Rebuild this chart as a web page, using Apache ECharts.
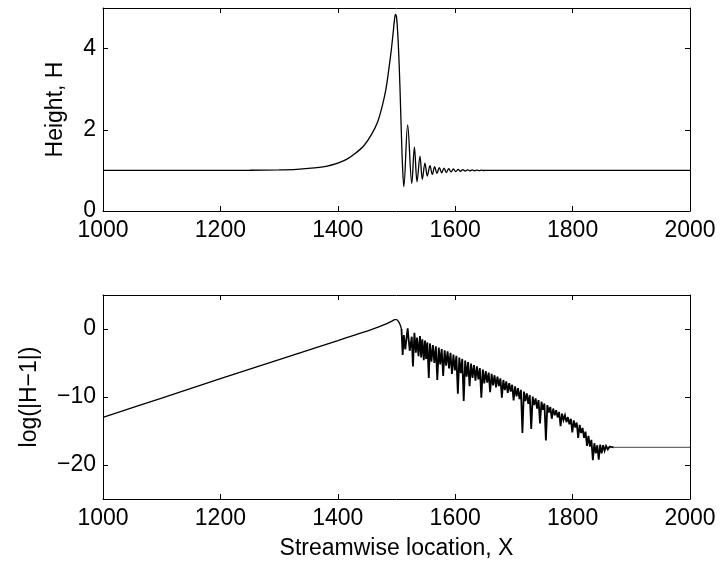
<!DOCTYPE html>
<html>
<head>
<meta charset="utf-8">
<script src="https://cdn.jsdelivr.net/npm/echarts/dist/echarts.min.js"></script>
<style>
html,body{margin:0;padding:0;background:#fff;}
#c{width:721px;height:572px;}
</style>
</head>
<body>
<div id="c"></div>
<script>
// ---- data ----
const xTicks = [1000, 1200, 1400, 1600, 1800, 2000];
const heightTicks = [0, 2, 4];
const logTicks = [-20, -10, 0];

const xTitle = 'Streamwise location, X';
const heightTitle = 'Height, H';
const logTitle = 'log(|H\u22121|)';

// Top panel: surface height H versus X
const heightCurve = [
  [1000,1.0],[1100,1.0],[1200,1.001],[1250,1.004],[1300,1.011],[1330,1.025],[1360,1.06],[1380,1.1],
  [1400,1.18],[1415,1.27],[1430,1.42],[1445,1.62],[1458,1.9],[1468,2.2],[1476,2.6],[1482,3.0],
  [1487,3.5],[1491,3.95],[1494,4.35],[1496.5,4.7],[1498.2,4.84],[1500,4.78],[1502,4.4],[1504,3.8],
  [1506,3.0],[1508,2.05],[1510,1.2],[1512.5,0.6],[1519,2.12],[1526,0.68],[1530.5,1.57],[1535,0.72],
  [1540,1.35],[1544,0.78],[1548.5,1.18],[1552.5,0.86],[1557,1.12],[1561,0.9],[1565,1.09],[1569,0.93],
  [1573,1.07],[1577,0.94],[1581,1.055],[1585,0.95],[1589,1.045],[1593,0.96],[1597,1.035],[1601,0.97],
  [1605,1.027],[1609,0.977],[1613,1.02],[1617,0.983],[1621,1.015],[1625,0.988],[1629,1.011],[1633,0.991],
  [1637,1.008],[1641,0.994],[1645,1.005],[1649,0.997],[1653,1.002],[1660,1.0],[2000,1.0]
];

// Bottom panel: log(|H-1|) versus X — smooth exponential rise up to the hump
const logRise = [
  [1000,-13.0],[1100,-10.15],[1200,-7.3],[1300,-4.5],[1400,-1.7],[1430,-0.85],[1450,-0.3],[1465,0.15],
  [1478,0.6],[1487,0.95],[1493,1.2],[1497,1.38],[1500,1.38],[1503,1.15],[1506,0.65],[1508.5,0.0]
];
// oscillating region: alternating local maxima of |H-1| and zero-crossing spikes
const logSpikes = [
  [1508.5,0.0],
  [1510.5,-3.8],[1512.5,-0.9],[1515,-3.0],[1519,0.11],[1522.5,-3.2],[1526,-1.14],[1528,-5.5],[1530.5,-0.56],
  [1533,-3.5],[1535,-1.27],[1537.5,-4.0],[1540,-1.05],[1542,-4.2],[1544,-1.51],[1546.5,-4.6],[1548.5,-1.71],
  [1550.5,-4.4],[1552.5,-1.97],[1555,-7.2],[1557,-2.12],[1559.5,-4.8],[1562,-2.35],[1564.5,-5.0],[1567,-2.55],
  [1569.5,-7.5],[1572,-2.75],[1574.5,-5.2],[1577,-2.95],[1579.5,-6.9],[1582,-3.15],[1584.5,-5.4],[1587,-3.3],
  [1589.5,-5.8],[1592,-3.5],[1594.5,-6.6],[1597,-3.75],[1599.5,-6.1],[1602,-3.95],[1604.5,-9.5],[1607,-4.2],
  [1609.5,-6.5],[1612,-4.4],[1614.5,-10.6],[1617,-4.65],[1619.5,-7.0],[1622,-4.85],[1624.5,-8.4],[1627,-5.1],
  [1629.5,-7.2],[1632,-5.3],[1634.5,-7.6],[1637,-5.5],[1639.5,-7.4],[1642,-5.75],[1644.5,-10.1],[1647,-5.95],
  [1649.5,-8.0],[1652,-6.2],[1654.5,-7.9],[1657,-6.4],[1659.5,-9.3],[1662,-6.6],[1664.5,-8.3],[1667,-6.8],
  [1669.5,-8.6],[1672,-7.0],[1674.5,-8.4],[1677,-7.25],[1679.5,-10.1],[1682,-7.5],[1684.5,-9.0],[1687,-7.7],
  [1689.5,-9.4],[1692,-7.95],[1694.5,-9.2],[1697,-8.2],[1699.5,-10.5],[1702,-8.45],[1704.5,-9.9],[1707,-8.7],
  [1709.5,-10.3],[1712,-8.95],[1714.5,-15.3],[1717,-9.2],[1719.5,-10.6],[1722,-9.45],[1724.5,-11.0],[1727,-9.7],
  [1729.5,-14.7],[1732,-9.95],[1734.5,-11.2],[1737,-10.2],[1739.5,-11.7],[1742,-10.45],[1744.5,-13.9],[1747,-10.7],
  [1749.5,-11.9],[1752,-10.95],[1754.5,-16.4],[1757,-11.2],[1759.5,-12.3],[1762,-11.45],[1764.5,-13.2],[1767,-11.7],
  [1769.5,-12.7],[1772,-11.95],[1774.5,-13.0],[1777,-12.2],[1779.5,-14.3],[1782,-12.45],[1784.5,-13.4],[1787,-12.7],
  [1789.5,-13.7],[1792,-12.95],[1794.5,-14.0],[1797,-13.2],[1799.5,-15.2],[1802,-13.45],[1804.5,-14.5],[1807,-13.75],
  [1809.5,-16.0],[1812,-14.1],[1814.5,-15.3],[1817,-14.55],[1819.5,-16.0],[1822,-15.1],[1824.5,-17.2],[1827,-15.7],
  [1829.5,-17.3],[1832,-16.3],[1834.5,-19.3],[1837,-16.8],[1839.5,-18.3],[1842,-17.1],[1844.5,-19.2],[1847,-17.0],
  [1849.5,-18.3],[1852,-17.1],[1854.5,-17.9],[1857,-17.2],[1860,-17.7],[1863,-17.3],[1866,-17.5],[1870,-17.4]
];
// numerical floor after the waves have decayed
const logTail = [[1870,-17.4],[2000,-17.4]];

// ---- chart ----
const FONT = 'Liberation Sans, Arial, Helvetica, sans-serif';
const FS = 23;
const black = '#000';
const fmt = v => String(v).replace('-', '\u2212');

function xAx(gridIndex, pos, withLabels, name) {
  return {
    type: 'value', gridIndex: gridIndex, position: pos,
    min: 1000, max: 2000,
    name: name || '', nameLocation: 'middle', nameGap: 38,
    nameTextStyle: {color: black, fontFamily: FONT, fontSize: FS},
    axisLine: {show: true, onZero: false, lineStyle: {color: black, width: 1}},
    axisTick: {show: true, inside: true, length: 5, customValues: xTicks, lineStyle: {color: black, width: 1}},
    axisLabel: {show: withLabels, customValues: xTicks, formatter: fmt, margin: 8, color: black, fontFamily: FONT, fontSize: FS},
    splitLine: {show: false}
  };
}
function yAx(gridIndex, pos, withLabels, min, max, ticks, name, gap) {
  return {
    type: 'value', gridIndex: gridIndex, position: pos,
    min: min, max: max,
    name: name || '', nameLocation: 'middle', nameGap: gap || 0,
    nameTextStyle: {color: black, fontFamily: FONT, fontSize: FS},
    axisLine: {show: true, onZero: false, lineStyle: {color: black, width: 1}},
    axisTick: {show: true, inside: true, length: 5, customValues: ticks, lineStyle: {color: black, width: 1}},
    axisLabel: {show: withLabels, customValues: ticks, formatter: fmt, margin: 7, color: black, fontFamily: FONT, fontSize: FS},
    splitLine: {show: false}
  };
}

const chart = echarts.init(document.getElementById('c'), null, {renderer: 'canvas'});
chart.setOption({
  animation: false,
  backgroundColor: '#fff',
  grid: [
    {left: 103, top: 8, width: 587, height: 203, containLabel: false},
    {left: 103, top: 295, width: 587, height: 204, containLabel: false}
  ],
  xAxis: [
    xAx(0, 'bottom', true),
    xAx(0, 'top', false),
    xAx(1, 'bottom', true, xTitle),
    xAx(1, 'top', false)
  ],
  yAxis: [
    yAx(0, 'left', true, 0, 5, heightTicks, heightTitle, 36),
    yAx(0, 'right', false, 0, 5, heightTicks),
    yAx(1, 'left', true, -25, 5, logTicks, logTitle, 62),
    yAx(1, 'right', false, -25, 5, logTicks)
  ],
  series: [
    {
      type: 'line', xAxisIndex: 0, yAxisIndex: 0, data: heightCurve,
      showSymbol: false, symbol: 'none', smooth: 0.35,
      lineStyle: {color: black, width: 1.3}
    },
    {
      type: 'line', xAxisIndex: 2, yAxisIndex: 2, data: logRise,
      showSymbol: false, symbol: 'none', smooth: 0.3,
      lineStyle: {color: black, width: 1.3}
    },
    {
      type: 'line', xAxisIndex: 2, yAxisIndex: 2, data: logSpikes,
      showSymbol: false, symbol: 'none', smooth: false,
      lineStyle: {color: black, width: 1.8, join: 'miter', miterLimit: 4}
    },
    {
      type: 'line', xAxisIndex: 2, yAxisIndex: 2, data: logTail,
      showSymbol: false, symbol: 'none', smooth: false,
      lineStyle: {color: '#444', width: 1}
    }
  ]
});
</script>
</body>
</html>
